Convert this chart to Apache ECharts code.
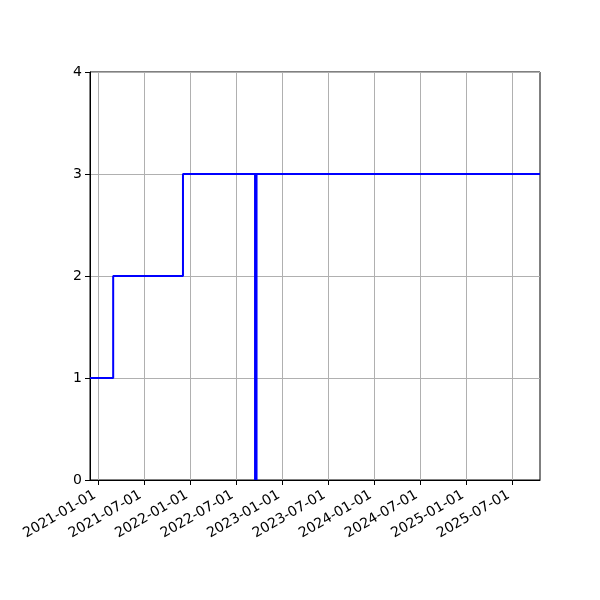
<!DOCTYPE html>
<html><head><meta charset="utf-8">
<script src="https://cdn.jsdelivr.net/npm/echarts@6/dist/echarts.min.js"></script>
<style>html,body{margin:0;padding:0;background:#fff}#c{width:600px;height:600px}</style>
</head><body><div id="c"></div>
<script>
const stepDates = ['2020-11-29', '2021-03-01', '2021-12-03', '2025-10-20'];
const stepValues = [1, 2, 3, 3];
const markerDates = ['2022-09-18', '2022-09-18'];
const markerValues = [0, 3];
const tickLabels = ['2021-01-01','2021-07-01','2022-01-01','2022-07-01','2023-01-01','2023-07-01','2024-01-01','2024-07-01','2025-01-01','2025-07-01'];
const xMin = '2020-11-29', xMax = '2025-10-20';

const DAY = 86400000;
const toDay = s => { const [y,m,d] = s.split('-').map(Number); return Date.UTC(y, m-1, d) / DAY; };
const tickDays = tickLabels.map(toDay);
const pad = n => (n < 10 ? '0' : '') + n;
const fmt = v => { const d = new Date(Math.round(v) * DAY); return d.getUTCFullYear() + '-' + pad(d.getUTCMonth()+1) + '-' + pad(d.getUTCDate()); };

const chart = echarts.init(document.getElementById('c'), null, {renderer: 'canvas'});
chart.setOption({
  animation: false,
  textStyle: {fontFamily: 'DejaVu Sans'},
  grid: {left: 90, right: 60, top: 72, bottom: 120, show: true, borderColor: '#000', borderWidth: 1, backgroundColor: 'transparent'},
  xAxis: {
    type: 'value', min: toDay(xMin), max: toDay(xMax),
    axisLine: {show: true, lineStyle: {color: '#000', width: 1}},
    axisTick: {show: true, inside: false, length: 5, lineStyle: {color: '#000', width: 1}, customValues: tickDays},
    axisLabel: {customValues: tickDays, formatter: fmt, rotate: 30, color: '#000', fontSize: 14, margin: 12, padding: [0, 4, 0, 0], hideOverlap: false},
    splitLine: {show: true, lineStyle: {color: '#b0b0b0', width: 1}}
  },
  yAxis: {
    type: 'value', min: 0, max: 4, interval: 1,
    axisLine: {show: true, lineStyle: {color: '#000', width: 1}},
    axisTick: {show: true, length: 5, lineStyle: {color: '#000'}},
    axisLabel: {color: '#000', fontSize: 14, margin: 8},
    splitLine: {show: true, lineStyle: {color: '#b0b0b0', width: 1}}
  },
  series: [
    {type: 'line', step: 'end', data: stepDates.map((d,i) => [toDay(d), stepValues[i]]),
     showSymbol: false, lineStyle: {color: '#0000ff', width: 2}, z: 3},
    {type: 'line', data: markerDates.map((d,i) => [toDay(d), markerValues[i]]),
     showSymbol: false, lineStyle: {color: '#0000ff', width: 3.5}, z: 4}
  ]
});
</script></body></html>
